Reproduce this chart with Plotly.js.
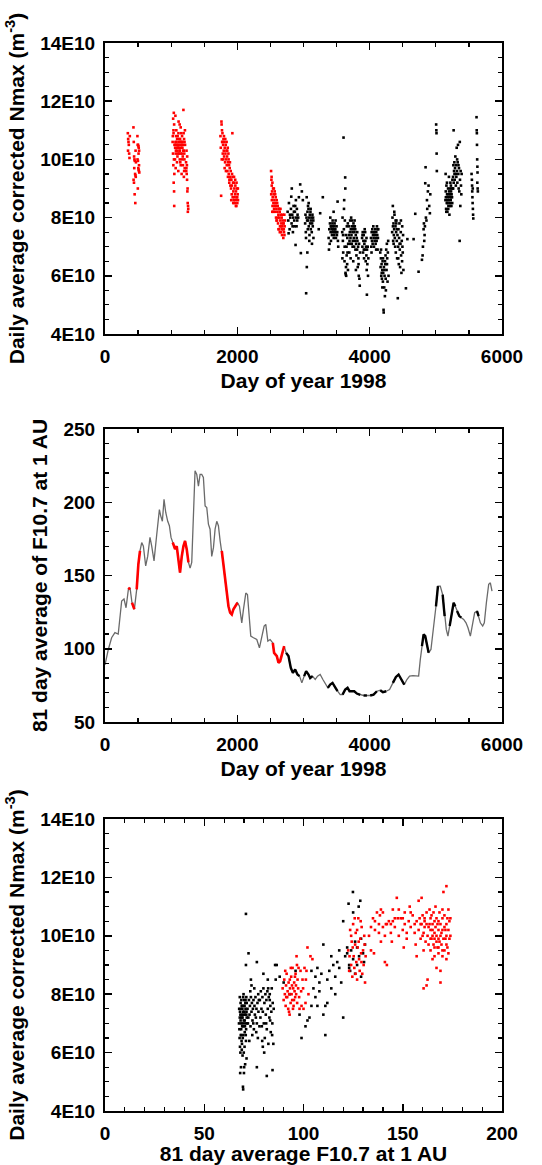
<!DOCTYPE html>
<html>
<head>
<meta charset="utf-8">
<script src="https://cdn.plot.ly/plotly-3.0.1.min.js"></script>
<style>html,body{margin:0;padding:0;background:#fff;}#chart{width:542px;height:1165px;}</style>
</head>
<body>
<div id="chart"></div>
<script>
// ---------- Panel 1: day of year (from 1998) vs daily average corrected Nmax (units of 1E10 m^-3)
const nmaxRed = [
[345,10.9],[350,10.7],[355,10.6],[360,10.5],[365,10.2],[370,10.05],[348,10.3],[375,10.8],
[430,11.1],[435,10.6],[440,10.1],[445,10.0],[450,9.95],[455,9.5],[460,9.45],[465,9.4],[432,9.3],[438,9.2],[448,8.8],[458,8.5],[462,10.3],[468,9.9],[442,9.7],
[490,10.8],[495,10.5],[500,10.5],[505,10.45],[510,10.4],[515,10.3],[492,10.0],[498,9.95],[503,9.7],[508,9.65],[512,9.6],[518,9.55],[496,9.0],[507,10.2],[514,9.8],
[1040,11.6],[1030,11.4],[1045,11.2],[1035,11.0],[1025,10.8],[1050,10.5],[1028,10.2],[1042,10.0],[1033,9.8],[1048,9.5],[1038,9.2],[1044,8.9],[1046,8.4],[1022,10.6],[1036,10.9],
[1060,10.4],[1065,10.6],[1070,10.2],[1075,10.8],[1080,10.5],[1085,10.3],[1090,10.7],[1095,10.1],[1100,10.5],[1105,10.4],[1110,10.9],[1115,10.2],[1120,10.6],[1125,10.3],[1130,10.0],[1135,10.7],[1140,10.5],[1145,9.8],[1150,10.4],[1155,10.6],[1160,10.2],[1165,10.8],[1170,10.4],[1175,10.1],[1180,10.5],[1185,11.7],[1190,10.3],[1195,10.7],[1200,10.0],[1205,9.7],[1210,10.5],
[1058,10.0],[1068,9.7],[1078,11.0],[1088,9.9],[1098,10.8],[1108,9.6],[1118,10.4],[1128,11.2],[1138,9.9],[1148,10.6],[1158,9.5],[1168,10.0],[1178,9.8],[1188,10.9],[1198,10.2],[1208,11.0],[1062,10.5],[1072,10.3],[1082,10.6],[1092,10.4],[1102,10.2],[1112,10.5],[1122,10.7],[1132,10.3],[1142,10.2],[1152,10.9],[1162,10.5],[1172,10.6],[1182,10.3],[1192,9.4],[1202,10.6],[1112,11.3],[1064,11.5],[1144,11.1],[1196,9.6],
[1225,9.9],[1230,9.7],[1235,9.5],[1240,9.3],[1245,8.9],[1250,8.5],[1255,8.4],[1258,8.3],[1228,9.6],[1238,9.8],[1248,9.0],[1232,10.3],[1242,10.1],[1252,8.2],
[1745,10.8],[1750,10.4],[1755,8.75],[1760,11.3],[1762,11.2],[1765,10.0],[1770,10.6],[1775,10.9],[1780,10.2],[1785,10.5],[1790,10.7],[1795,10.3],[1800,10.1],[1805,10.6],[1810,10.4],[1815,9.9],[1820,10.2],[1825,10.5],[1830,10.0],[1835,10.3],[1840,9.8],[1845,10.1],[1850,9.6],[1855,10.4],[1860,9.9],[1865,10.2],[1870,9.5],[1875,9.8],[1880,9.3],[1885,9.7],[1890,9.4],[1895,9.1],[1900,9.6],[1905,9.0],[1910,9.3],[1915,8.8],[1920,9.5],[1925,10.9],[1930,8.7],[1935,9.2],[1940,8.9],[1945,8.6],[1950,9.4],[1955,9.0],[1960,8.5],[1965,8.8],[1970,9.1],[1975,8.6],[1980,8.9],[1985,8.4],[1990,8.7],[1995,9.0],[2000,8.5],[2005,8.8],[2010,8.6],
[1768,11.0],[1778,10.6],[1788,10.0],[1798,10.8],[1808,9.7],[1818,10.7],[1828,9.6],[1838,10.6],[1848,10.3],[1858,9.4],[1868,10.0],[1878,9.2],[1888,9.9],[1898,9.3],[1908,8.6],[1918,9.1],[1928,9.4],[1938,8.5],[1948,9.2],[1958,8.7],[1968,9.3],[1978,8.4],[1988,9.2],[1998,8.7],[2008,9.0],
[2510,9.6],[2515,9.3],[2520,9.1],[2525,8.9],[2530,9.2],[2535,8.7],[2540,9.0],[2545,8.5],[2550,8.8],[2555,8.3],[2560,8.6],[2565,8.9],[2570,8.2],[2575,8.5],[2580,8.7],[2585,8.0],[2590,8.3],[2595,8.6],[2600,7.9],[2605,8.2],[2610,8.4],[2615,7.8],[2620,8.1],[2625,8.3],[2630,7.6],[2635,8.0],[2640,8.2],[2645,7.7],[2650,7.9],[2655,8.1],[2660,7.5],[2665,7.8],[2670,8.0],[2675,7.4],[2680,7.7],[2685,7.9],[2690,7.6],[2695,7.3],[2700,7.8],[2705,7.5],[2710,8.1],[2715,7.7],[2720,7.9],
[2512,8.8],[2522,8.6],[2532,8.4],[2542,8.2],[2552,9.0],[2562,8.4],[2572,8.8],[2582,8.4],[2592,7.9],[2602,8.5],[2612,8.0],[2622,7.6],[2632,8.3],[2642,7.5],[2652,8.3],[2662,7.7],[2672,7.6],[2682,8.1],[2692,7.8],[2702,7.6],[2712,7.4],[2518,9.4],[2528,8.2]
];
const nmaxBlack = [
[2760,8.2],[2770,7.9],[2780,8.5],[2790,7.6],[2800,8.0],[2810,8.3],[2820,7.8],[2823,9.0],[2830,8.1],[2840,7.5],[2850,8.4],[2860,7.9],[2870,8.2],[2880,7.06],[2885,8.6],[2890,8.0],[2895,7.7],[2900,8.3],[2905,7.9],[2910,8.1],[2815,8.72],[2775,7.46],[2845,8.0],[2865,7.7],[2875,8.4],[2795,8.1],[2835,7.7],[2855,8.2],[2920,8.0],[2950,9.14],[2975,8.9],[2960,6.78],[2990,8.6],[2930,8.7],
[3025,7.8],[3030,8.1],[3035,7.5],[3040,5.4],[3045,8.0],[3050,6.3],[3055,7.9],[3060,8.2],[3065,7.6],[3070,7.9],[3075,8.3],[3080,7.7],[3085,8.0],[3090,7.4],[3095,8.1],[3100,7.8],[3105,8.2],[3110,7.6],[3115,7.9],[3120,8.0],[3125,7.5],[3130,7.8],[3135,8.1],[3140,7.7],[3145,8.0],[3150,7.3],[3058,6.8],[3048,8.7],[3068,8.4],[3088,7.2],[3108,8.3],[3128,7.1],[3148,7.9],[3038,7.3],[3078,8.5],
[3252,8.15],[3292,8.7],[3230,7.6],
[3380,7.3],[3390,7.6],[3400,7.8],[3410,7.5],[3420,7.7],[3430,7.4],[3440,7.9],[3450,7.6],[3460,7.5],[3470,7.8],[3480,7.6],[3490,7.3],[3500,7.7],[3510,7.5],[3520,7.2],[3385,6.9],[3395,7.1],[3405,8.0],[3415,7.2],[3425,7.6],[3435,7.5],[3445,7.7],[3455,8.2],[3465,7.4],[3475,7.6],[3485,7.9],[3495,7.5],[3505,7.4],[3515,8.55],[3525,7.0],[3437,7.8],[3457,7.3],[3477,7.5],[3447,7.6],[3412,7.7],[3468,7.7],
[3585,7.5],[3590,8.0],[3595,7.2],[3600,6.8],[3605,10.75],[3610,7.6],[3615,8.6],[3620,6.5],[3625,7.9],[3630,9.38],[3632,9.0],[3635,6.1],[3640,7.4],[3645,6.0],[3650,7.0],[3655,7.7],[3660,6.4],[3665,6.8],[3670,7.8],[3675,7.1],[3588,6.6],[3598,7.4],[3612,8.3],[3622,7.0],[3642,6.3],[3652,6.7],[3662,7.3],[3672,6.2],[3638,6.05],
[3685,7.4],[3690,7.7],[3695,7.2],[3700,7.5],[3705,7.9],[3710,7.3],[3715,7.6],[3720,8.0],[3725,7.4],[3730,7.1],[3735,7.7],[3740,7.5],[3745,7.2],[3750,7.6],[3755,7.8],[3760,7.3],[3765,7.0],[3770,7.5],[3775,7.7],[3780,7.2],[3785,6.9],[3790,7.4],[3795,7.1],[3800,6.7],[3805,7.3],[3810,6.9],[3815,7.2],[3820,6.3],[3825,7.0],[3830,6.6],[3835,6.0],[3840,7.1],[3845,5.9],[3850,5.66],[3855,6.8],[3692,6.8],[3712,6.6],[3732,7.9],[3752,6.5],[3772,7.9],[3792,6.2],[3812,7.5],[3832,6.4],[3702,7.1],[3742,7.0],[3762,7.7],[3782,7.6],
[3885,7.3],[3890,7.0],[3895,7.5],[3900,6.8],[3905,7.2],[3910,7.4],[3915,6.6],[3920,7.1],[3925,7.6],[3930,6.9],[3935,7.2],[3940,6.5],[3945,7.0],[3950,6.7],[3955,6.2],[3958,5.35],[3960,6.9],[3965,6.4],[3970,7.0],[3975,6.0],[3980,6.6],[3892,7.4],[3912,6.9],[3932,7.5],[3952,7.3],
[4020,7.3],[4025,7.0],[4030,7.5],[4035,7.2],[4040,7.6],[4045,7.1],[4050,7.4],[4055,7.7],[4060,7.3],[4065,7.0],[4070,7.5],[4075,7.2],[4080,7.4],[4085,7.6],[4090,7.1],[4095,7.3],[4100,7.5],[4105,7.2],[4110,7.7],[4115,7.4],[4120,6.9],[4125,7.3],[4130,7.6],[4028,6.8],[4062,7.5],[4098,6.9],[4118,7.6],
[4160,6.8],[4165,6.3],[4170,6.6],[4175,6.0],[4180,6.4],[4185,5.9],[4190,6.2],[4195,6.5],[4200,5.8],[4205,6.1],[4210,4.83],[4212,4.74],[4215,6.3],[4220,5.6],[4225,6.0],[4230,5.3],[4235,6.4],[4240,6.7],[4245,5.5],[4250,6.9],[4255,6.2],[4260,7.1],[4265,6.6],[4270,5.8],[4275,6.8],[4280,7.2],[4285,6.0],[4172,6.9],[4192,5.6],[4202,6.6],[4222,6.2],[4242,5.9],[4262,6.4],[4182,6.1],[4232,6.5],
[4340,7.5],[4345,8.0],[4350,8.4],[4355,7.2],[4360,7.8],[4365,7.4],[4370,7.6],[4375,8.1],[4380,7.3],[4385,7.0],[4390,7.7],[4395,6.8],[4400,7.5],[4405,7.9],[4410,7.2],[4415,6.6],[4420,7.4],[4425,5.23],[4430,7.0],[4435,7.6],[4440,6.4],[4445,7.3],[4450,7.8],[4455,6.9],[4460,6.3],[4465,7.1],[4470,7.5],[4475,6.7],[4480,6.1],[4485,7.2],[4490,6.5],[4495,7.0],[4500,6.8],[4505,7.4],[4510,6.2],[4548,5.57],[4570,7.26],[4352,7.7],[4372,8.2],[4392,7.9],[4412,7.6],[4432,6.6],[4452,7.1],[4472,7.9],[4492,7.7],[4362,7.1],[4402,7.8],
[4664,7.26],[4689,8.13],[4739,6.14],[4790,6.55],[4800,6.7],[4815,7.6],[4820,7.8],[4830,7.4],[4835,7.7],[4840,9.18],[4845,9.73],[4850,8.0],[4866,8.6],[4880,8.9],[4890,9.1],[4900,8.4],[4910,8.15],[4916,8.8],[4870,8.3],[4858,7.9],[4825,7.2],[4805,7.0],
[5005,11.2],[5008,11.0],[5010,10.9],[5012,10.2],[5015,9.6],
[5145,8.6],[5150,8.9],[5155,8.3],[5160,9.1],[5165,8.5],[5170,8.8],[5175,8.2],[5180,8.7],[5185,9.0],[5190,8.4],[5195,8.6],[5200,8.9],[5205,8.1],[5210,8.5],[5215,8.8],[5220,9.2],[5225,8.6],[5230,8.9],[5235,8.4],[5240,9.0],[5245,8.7],[5250,9.3],[5148,9.5],[5158,8.2],[5168,9.2],[5178,8.5],[5188,8.3],[5198,9.4],[5208,8.7],[5218,8.4],[5228,9.1],[5238,8.8],[5248,8.5],[5152,8.7],[5172,8.6],[5192,8.8],[5212,9.0],[5232,8.7],
[5255,9.0],[5260,9.4],[5265,9.8],[5269,11.0],[5270,9.2],[5275,9.6],[5280,9.9],[5285,9.3],[5290,9.7],[5295,10.1],[5300,9.5],[5305,9.8],[5310,9.4],[5315,10.4],[5320,9.6],[5325,9.2],[5330,9.9],[5335,10.5],[5340,9.5],[5345,9.0],[5350,9.7],[5355,8.9],[5360,7.2],[5365,9.3],[5370,8.4],[5375,9.6],[5380,9.1],[5385,8.8],[5390,9.5],[5262,9.0],[5282,9.5],[5302,9.1],[5322,10.0],[5342,9.8],[5362,10.6],
[5540,9.5],[5545,9.3],[5548,9.1],[5550,8.9],[5553,8.7],[5556,8.5],[5560,8.3],[5563,8.1],[5566,7.97],[5558,9.0],
[5615,11.45],[5618,11.0],[5620,10.9],[5622,10.5],[5625,10.0],[5628,9.75],[5630,9.55],[5632,9.0],[5635,8.9],[5627,9.2]
];

// ---------- Panel 2: 81-day average F10.7 at 1 AU
const f107Day = [0,50,100,150,200,227,252,287,318,353,378,408,444,479,504,529,555,580,615,645,680,706,741,782,822,842,867,892,918,948,973,998,1024,1059,1084,1109,1134,1160,1185,1210,1235,1261,1286,1311,1336,1361,1387,1412,1437,1462,1487,1513,1538,1563,1588,1613,1639,1664,1689,1714,1740,1765,1790,1815,1840,1866,1891,1916,1941,1966,2002,2032,2067,2093,2128,2153,2183,2203,2244,2294,2334,2370,2405,2430,2461,2496,2536,2556,2597,2622,2647,2682,2708,2738,2773,2808,2839,2874,2909,2940,2975,3010,3040,3076,3101,3136,3177,3212,3252,3293,3328,3368,3403,3439,3479,3514,3555,3590,3630,3666,3696,3731,3767,3807,3857,3908,3958,4008,4059,4109,4160,4200,4250,4301,4351,4397,4437,4477,4523,4563,4603,4654,4704,4740,4765,4790,4815,4840,4866,4891,4926,4966,5002,5032,5067,5103,5133,5158,5183,5209,5234,5269,5294,5320,5355,5385,5421,5456,5486,5522,5557,5587,5622,5647,5673,5708,5733,5764,5799,5824,5849];
const f107Val = [89,99.5,107.5,111,110,122,132.6,134,128,140.5,141.7,131.4,127,140.5,157.6,166.8,172.5,170,156.5,163,176,170,160,178,195,190.7,187,202,193,187,184,176,172.5,168,170,161,152,163,170,173.6,168,159,155,159,190.7,221.5,219,211,219,219,217,197.5,196.4,185,181.6,163,169,181.6,187,184,173.6,166.8,157.6,147.4,138,129,124.6,123.4,127,129,131.4,129,117.7,127,138,137,117.7,108.6,107.5,106.3,100.6,108.6,115.5,116.6,105.2,106.3,104,97.2,95,90.4,91.5,97.2,101.8,97.2,95,87,83.5,85.8,82.4,81.3,76.7,81.3,84.7,82.4,80,81.3,79,81.3,82.4,79,76.7,73.3,75.5,76.7,73.3,71,68.7,68.7,72.1,73.3,71,71,71,69.4,68.5,68.1,68.1,68.1,68.7,71,71.7,70.3,71,72.1,76.7,80.8,82.4,79,75.5,79,81.3,81.7,81.3,81.3,92.6,101.8,109.8,108.6,103,97.2,99.5,113.2,129,142.8,142.8,137,122.3,113.2,108.6,115.5,122.3,131.4,129,125.7,122.3,121.2,120,117.7,114.3,108.6,117.7,124.6,125.7,122.3,117.7,115.5,117.7,131.4,144,145,139.4];
// day spans highlighted (red = red Nmax days, black = black Nmax days)
const redSpans = [[350,380],[405,455],[478,532],[1020,1262],[1760,2005],[2505,2712]];
const blackSpans = [[2715,2960],[3005,3140],[3365,3530],[3580,3860],[3880,3990],[4005,4140],[4155,4290],[4330,4525],[4790,4900],[4995,5040],[5100,5140],[5200,5300],[5320,5400],[5510,5530],[5610,5660]];

// ---------- Panel 3: 81-day average F10.7 vs daily average corrected Nmax (1E10 m^-3)
const fluxBlack = [
[67.5,7.0],[67.8,6.5],[68.0,7.4],[68.2,6.0],[68.3,7.7],[68.5,5.5],[68.6,6.8],[68.8,7.2],[69.0,6.3],[69.1,7.6],[69.3,5.9],[69.4,7.0],[69.5,4.83],[69.6,4.74],[69.7,6.6],[69.8,7.3],[70.0,5.3],[70.1,7.8],[70.3,6.2],[70.4,7.1],[70.5,6.9],[70.6,5.6],[70.8,7.5],[71.0,6.4],[71.0,10.75],[71.2,7.9],[71.3,5.8],[71.4,7.2],[67.9,7.9],[68.1,5.3],[68.4,6.6],[68.7,7.8],[68.9,6.1],[69.2,7.5],[69.9,6.0],[70.2,7.4],[70.7,7.7],[71.1,6.8],[67.6,7.5],[68.0,6.2],[68.6,7.0],[69.4,6.5],[70.1,5.5],[70.9,6.6],[69.6,7.9],[70.3,7.6],[71.5,7.0],[69.8,8.0],[68.3,7.1],[69.0,7.3],[70.5,7.3],[71.3,7.4],[67.7,6.8],[68.8,6.4],[69.7,6.9],
[68.2,7.3],[68.9,7.6],[69.3,7.2],[70.0,7.6],[70.6,7.0],[71.2,7.3],[69.1,6.9],[68.5,7.5],[70.4,6.7],[71.4,7.7],[67.9,7.2],[69.5,7.4],[70.8,7.8],[68.7,6.6],[69.9,7.1],
[71.8,7.5],[72.0,7.0],[72.3,9.4],[72.5,7.8],[72.8,7.3],[73.0,7.6],[73.3,6.9],[73.5,7.9],[73.8,7.4],[74.0,7.7],[74.3,7.1],[74.5,7.5],[74.8,7.8],[75.0,6.8],[75.3,7.6],[75.5,7.3],[75.8,7.9],[76.0,7.2],[76.3,7.5],[76.5,7.0],[76.8,7.7],[77.0,6.5],[77.3,7.4],[77.5,7.8],[77.8,6.9],[72.2,7.2],[73.2,8.1],[74.2,6.6],[75.2,8.2],[76.2,6.7],[77.2,8.0],[71.0,9.0],[73.5,8.5],[74.7,7.0],[72.7,6.4],[76.5,5.5],[73.8,8.3],
[78.0,7.8],[78.3,7.2],[78.5,8.1],[78.8,7.5],[79.0,6.9],[79.3,7.9],[79.5,7.4],[79.8,8.2],[80.0,7.0],[80.3,7.7],[80.5,6.5],[80.8,8.0],[81.0,7.3],[81.3,7.8],[81.5,6.8],[81.8,8.1],[82.0,7.5],[82.3,6.3],[82.5,7.9],[82.8,7.2],[83.0,8.0],[83.3,7.6],[83.5,6.7],[83.8,7.4],[84.0,8.2],[84.3,7.0],[84.5,7.7],[84.8,6.3],[85.0,7.5],[79.2,6.4],[80.2,6.0],[81.2,7.0],[82.2,8.2],[83.2,7.1],[84.2,6.6],[81.5,5.2],[84.4,5.4],[79.8,8.7],[76.5,9.1],[85.7,9.0],[86.5,9.0],[82.0,8.5],[79.5,6.2],[83.0,7.8],
[86,8.5],[88,8.6],[90,8.4],[93,8.0],[96,8.8],[98,7.3],[99,6.5],[102,7.1],[103,7.2],[104,7.6],[105,8.2],[106,8.6],[107,8.9],[108,8.4],[109,8.7],[110,7.3],[110,9.7],[111,7.6],[111,6.6],[112,8.5],[113,8.8],[114,8.2],[115,9.0],[116,8.6],[117,9.1],[118,8.9],[119,8.4],[120,7.2],[120,10.5],[121,9.3],[122,9.6],[123,9.0],[104,8.8],[106,7.9],[108,8.1],[112,7.7],[114,9.3],[116,8.0],[118,9.5],[101,6.9],[107,7.6],
[122,9.4],[123,8.9],[124,9.5],[124.9,11.5],[125,9.2],[126,9.8],[126,8.7],[127,9.0],[127,9.6],[128,9.3],[128.6,11.2],[129,9.9],[129,8.6],[130,9.4],[131,9.7],[127.8,11.0],[122.7,11.1],[125,10.8],[130.5,9.1],[123.5,8.8]
];
const fluxRed = [
[89.5,8.2],[90.0,7.8],[90.3,8.5],[90.6,8.0],[91.0,7.6],[91.2,8.3],[91.5,8.7],[91.8,7.9],[92.0,8.1],[92.3,7.5],[92.5,8.4],[92.8,8.0],[93.0,7.3],[93.2,8.2],[93.5,7.7],[93.8,8.6],[94.0,8.0],[94.3,7.8],[94.5,8.9],[94.8,8.2],[95.0,7.6],[95.3,8.4],[95.5,8.1],[95.8,7.9],[96.0,8.7],[96.3,8.0],[96.5,9.3],[96.8,7.7],[97.0,8.5],[97.5,8.9],[98.0,7.5],[98.5,8.8],[99.0,7.6],[99.5,8.5],[100.0,7.5],[100.5,8.9],[101.0,7.7],[101.5,8.8],[102.0,9.6],[102.5,8.0],[103.5,9.3],[104.5,9.2],[90.8,8.8],[92.7,7.4],[93.6,8.9],[94.7,7.5],[95.7,8.6],[96.7,9.0],[97.8,7.9],[91.3,7.9],[93.1,8.5],[94.2,8.3],[95.2,7.8],[96.2,8.3],[97.3,8.2],[99.8,8.2],[101.2,8.5],[98.8,8.1],
[122.5,9.5],[123,8.8],[123.5,10.2],[124,9.0],[124.3,9.8],[124.6,8.6],[125,10.4],[125.3,9.3],[125.6,8.9],[126,9.7],[126.3,10.1],[126.6,9.1],[127,8.5],[127.3,9.6],[127.6,10.6],[128,9.2],[128.3,8.8],[128.6,9.9],[129,9.4],[129.3,10.3],[129.6,8.7],[130,9.5],[130.3,9.0],[130.6,10.0],[131,8.4],[131.3,9.3],[123.2,9.3],[124.8,9.6],[126.2,8.7],[127.8,9.8],[129.2,9.1],[130.8,9.7],[125.8,10.6],[128.8,10.5],[124,10.0],[127,10.2],
[133,10.0],[134,9.5],[135,10.6],[136,10.2],[137,10.8],[138,10.4],[139,9.8],[140,10.3],[141,10.0],[142,9.0],[143,10.5],[144,10.1],[145,10.9],[146,10.3],[147,11.3],[148,10.0],[149,10.6],[150,10.2],[151,10.8],[152,9.9],[153,10.5],[154,10.3],[155,10.7],[156,10.1],[157,10.5],[158,11.2],[159,10.4],[160,10.0],[161,10.6],[162,8.3],[162.5,8.5],[163,10.3],[164,9.9],[164.5,10.7],[165,10.2],[165.5,9.7],[166,10.5],[166.5,11.0],[167,9.8],[167.5,10.4],[168,9.6],[168.5,10.8],[169,8.8],[169.5,10.1],[170,9.5],[170.5,11.5],[171,10.3],[171.5,9.9],[172,11.7],[172.5,10.6],[173,9.4],[173.5,10.5],[174,10.0],
[135.5,9.4],[138.5,10.7],[141.5,10.4],[144.5,9.8],[147.5,10.6],[150.5,9.6],[153.5,11.0],[156.5,9.7],[159.5,11.3],[160.5,9.5],[163.5,10.9],[166,9.3],[168,10.2],[170,10.9],[172,9.7],[165,10.0],[167,10.6],[169,10.4],[171,9.5],[173,10.9],[161,10.3],[157,9.3],[151,10.4],[145,10.5],[139,10.9],[162,10.8],[164,10.2],[166,9.6],[168,9.9],[170,10.2],[172,10.4],[160.5,8.2],[169,8.4],[141,9.1],
[158,10.2],[158.5,10.6],[159,9.9],[159.5,10.4],[160,10.7],[160.5,10.1],[161,10.5],[161.5,9.8],[162,10.4],[162.5,10.0],[163,9.7],[163.5,10.4],[164,10.6],[164.5,9.9],[165,10.4],[165.5,10.8],[166,10.1],[166.5,10.3],[167,10.0],[167.5,9.6],[168,10.5],[168.5,9.8],[169,10.0],[169.5,9.7],[170,10.6],[170.5,9.9],[171,10.7],[171.5,10.2],[172,10.0],[172.5,9.6],[173,10.2],[173.5,9.9],[174,10.6],[164,9.5],[166,9.9],[168,9.4],[170,9.3],[172,9.2],[167,8.9],[165,9.2],[156,10.4],[154,10.8],[152,10.1],[150,10.6],[148,10.9],[146,10.6],[144,10.4],[142,10.4],[140,10.8],[138,10.1],[136,10.5],[134,10.3]
];

const nmaxTicks = [4,6,8,10,12,14];
const nmaxTickText = ['4E10','6E10','8E10','10E10','12E10','14E10'];

// ---------- helpers
function col(arr, i){ return arr.map(p => p[i]); }
function spanLine(spans){
  const xs = [], ys = [];
  spans.forEach(([a,b]) => {
    f107Day.forEach((d,k) => { if (d >= a && d <= b) { xs.push(d); ys.push(f107Val[k]); } });
    xs.push(null); ys.push(null);
  });
  return {xs, ys};
}

const FONT = 'Liberation Sans, Arial, Helvetica, sans-serif';
const tickFont = {family: FONT, size: 19, color: '#000', weight: 'bold'};
const titleFont = {family: FONT, size: 21, color: '#000', weight: 'bold'};
const mk = (c) => ({color: c, size: 2.6, symbol: 'square', line: {width: 0}});

const redL = spanLine(redSpans), blackL = spanLine(blackSpans);

const traces = [
  {x: col(nmaxBlack,0), y: col(nmaxBlack,1), type: 'scatter', mode: 'markers', marker: mk('#000'), xaxis: 'x', yaxis: 'y'},
  {x: col(nmaxRed,0), y: col(nmaxRed,1), type: 'scatter', mode: 'markers', marker: mk('#ff0000'), xaxis: 'x', yaxis: 'y'},
  {x: f107Day, y: f107Val, type: 'scatter', mode: 'lines', line: {color: '#6a6a6a', width: 1.3}, xaxis: 'x2', yaxis: 'y2'},
  {x: blackL.xs, y: blackL.ys, type: 'scatter', mode: 'lines', connectgaps: false, line: {color: '#000', width: 2.4}, xaxis: 'x2', yaxis: 'y2'},
  {x: redL.xs, y: redL.ys, type: 'scatter', mode: 'lines', connectgaps: false, line: {color: '#ff0000', width: 2.6}, xaxis: 'x2', yaxis: 'y2'},
  {x: col(fluxBlack,0), y: col(fluxBlack,1), type: 'scatter', mode: 'markers', marker: mk('#000'), xaxis: 'x3', yaxis: 'y3'},
  {x: col(fluxRed,0), y: col(fluxRed,1), type: 'scatter', mode: 'markers', marker: mk('#ff0000'), xaxis: 'x3', yaxis: 'y3'}
];

const W = 542, H = 1165;
const xDom = [105/W, 502/W];
const yd = (top, bot) => [1 - bot/H, 1 - top/H];

function axisBase(extra){
  return Object.assign({
    showgrid: false, zeroline: false, showline: true, linecolor: '#000', linewidth: 2,
    mirror: 'allticks', ticks: 'inside', ticklen: 7, tickwidth: 1.5, tickcolor: '#000',
    tickfont: tickFont, ticklabelstandoff: 4, fixedrange: true
  }, extra);
}
const minorX = (d) => ({tick0: 0, dtick: d, ticks: 'inside', ticklen: 4, tickcolor: '#000', tickwidth: 1.2});

const layout = {
  width: W, height: H, margin: {l: 0, r: 0, t: 0, b: 0},
  paper_bgcolor: '#fff', plot_bgcolor: '#fff', showlegend: false,
  xaxis: axisBase({domain: xDom, anchor: 'y', range: [0,6000], tickmode: 'array', tickvals: [0,2000,4000,6000],
    minor: minorX(500), title: {text: 'Day of year 1998', font: titleFont, standoff: 8}}),
  yaxis: axisBase({domain: yd(43,334), anchor: 'x', range: [4,14], tickmode: 'array', tickvals: nmaxTicks, ticktext: nmaxTickText,
    minor: minorX(0.5), title: {text: 'Daily average corrected Nmax (m<sup>-3</sup>)', font: titleFont, standoff: 10}}),
  xaxis2: axisBase({domain: xDom, anchor: 'y2', range: [0,6000], tickmode: 'array', tickvals: [0,2000,4000,6000],
    minor: minorX(500), title: {text: 'Day of year 1998', font: titleFont, standoff: 8}}),
  yaxis2: axisBase({domain: yd(429,722), anchor: 'x2', range: [50,250], tickmode: 'array', tickvals: [50,100,150,200,250],
    minor: minorX(10), title: {text: '81 day average of F10.7 at 1 AU', font: titleFont, standoff: 10}}),
  xaxis3: axisBase({domain: xDom, anchor: 'y3', range: [0,200], tickmode: 'array', tickvals: [0,50,100,150,200],
    minor: minorX(10), title: {text: '81 day average F10.7 at 1 AU', font: titleFont, standoff: 8}}),
  yaxis3: axisBase({domain: yd(819,1111), anchor: 'x3', range: [4,14], tickmode: 'array', tickvals: nmaxTicks, ticktext: nmaxTickText,
    minor: minorX(0.5), title: {text: 'Daily average corrected Nmax (m<sup>-3</sup>)', font: titleFont, standoff: 10}})
};

Plotly.newPlot('chart', traces, layout, {staticPlot: true, displayModeBar: false});
</script>
</body>
</html>
